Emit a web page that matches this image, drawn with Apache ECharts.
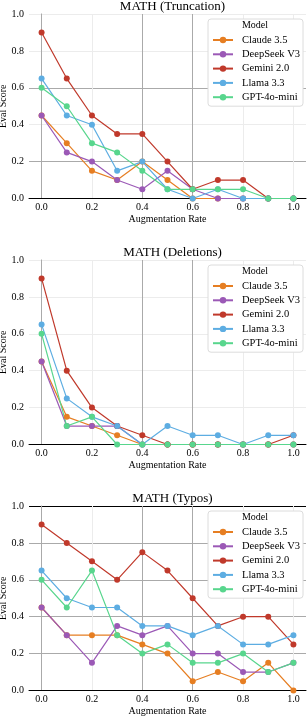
<!DOCTYPE html>
<html><head><meta charset="utf-8">
<script src="https://cdn.jsdelivr.net/npm/echarts@6/dist/echarts.min.js"></script>
<style>html,body{margin:0;padding:0;background:#fff}#c{width:308px;height:718px}</style>
</head><body><div id="c"></div>
<script>
// ---------- data ----------
const xValues = [0.0, 0.1, 0.2, 0.3, 0.4, 0.5, 0.6, 0.7, 0.8, 0.9, 1.0];
const xTicks = [0.0, 0.2, 0.4, 0.6, 0.8, 1.0];
const yTicks = [0.0, 0.2, 0.4, 0.6, 0.8, 1.0];
const models = ['Claude 3.5', 'DeepSeek V3', 'Gemini 2.0', 'Llama 3.3', 'GPT-4o-mini'];
const panelTitles = ['MATH (Truncation)', 'MATH (Deletions)', 'MATH (Typos)'];
const xAxisTitle = 'Augmentation Rate';
const yAxisTitle = 'Eval Score';
const legendTitle = 'Model';

// Truncation
const truncClaude   = [0.45, 0.30, 0.15, 0.10, 0.20, 0.10, 0.00, 0.00, 0.00, 0.00, 0.00];
const truncDeepSeek = [0.45, 0.25, 0.20, 0.10, 0.05, 0.15, 0.05, 0.00, 0.00, 0.00, 0.00];
const truncGemini   = [0.90, 0.65, 0.45, 0.35, 0.35, 0.20, 0.05, 0.10, 0.10, 0.00, 0.00];
const truncLlama    = [0.65, 0.45, 0.40, 0.15, 0.20, 0.05, 0.00, 0.05, 0.00, 0.00, 0.00];
const truncGPT      = [0.60, 0.50, 0.30, 0.25, 0.15, 0.05, 0.05, 0.05, 0.05, 0.00, 0.00];
// Deletions
const delClaude   = [0.45, 0.15, 0.10, 0.05, 0.00, 0.00, 0.00, 0.00, 0.00, 0.00, 0.00];
const delDeepSeek = [0.45, 0.10, 0.10, 0.10, 0.00, 0.00, 0.00, 0.00, 0.00, 0.00, 0.00];
const delGemini   = [0.90, 0.40, 0.20, 0.10, 0.05, 0.00, 0.00, 0.00, 0.00, 0.00, 0.05];
const delLlama    = [0.65, 0.25, 0.15, 0.10, 0.00, 0.10, 0.05, 0.05, 0.00, 0.05, 0.05];
const delGPT      = [0.60, 0.10, 0.15, 0.00, 0.00, 0.00, 0.00, 0.00, 0.00, 0.00, 0.00];
// Typos
const typoClaude   = [0.45, 0.30, 0.30, 0.30, 0.25, 0.20, 0.05, 0.10, 0.05, 0.15, 0.00];
const typoDeepSeek = [0.45, 0.30, 0.15, 0.35, 0.30, 0.35, 0.20, 0.20, 0.10, 0.10, 0.15];
const typoGemini   = [0.90, 0.80, 0.70, 0.60, 0.75, 0.65, 0.50, 0.35, 0.40, 0.40, 0.25];
const typoLlama    = [0.65, 0.50, 0.45, 0.45, 0.35, 0.35, 0.30, 0.35, 0.25, 0.25, 0.30];
const typoGPT      = [0.60, 0.45, 0.65, 0.30, 0.20, 0.25, 0.15, 0.15, 0.20, 0.10, 0.15];

const panels = [
  [truncClaude, truncDeepSeek, truncGemini, truncLlama, truncGPT],
  [delClaude, delDeepSeek, delGemini, delLlama, delGPT],
  [typoClaude, typoDeepSeek, typoGemini, typoLlama, typoGPT]
];

// ---------- style / layout ----------
const colors = ['#e67e22', '#9b59b6', '#c0392b', '#5dade2', '#58d68d'];
const FONT = 'Liberation Serif';
const G = '#aaaaaa', F = '#ececec', K = '#000000', N = 'rgba(0,0,0,0)';
const xGridColors = [
  [G, F, G, G, F, F],
  [G, F, G, G, F, F],
  [G, F, G, G, F, F]
];
const yGridColors = [
  [N, G, F, G, F, F],
  [N, F, F, F, F, F],
  [N, G, G, G, G, K]
];
const W = 308, plotLeft = 29, plotRight = 2;
const plotW = W - plotLeft - plotRight;
const pad = plotW * 0.05 / 1.1;
const tops = [14, 260, 506];
const plotH = 184.5;

const option = {
  animation: false,
  backgroundColor: '#fff',
  textStyle: { fontFamily: FONT },
  title: [], legend: [], grid: [], xAxis: [], yAxis: [], series: []
};

panels.forEach((vals, p) => {
  const top = tops[p];
  option.grid.push({ left: plotLeft, right: plotRight, top: top, height: plotH,
    containLabel: false, outerBoundsMode: 'none' });
  option.grid.push({ left: plotLeft + pad, right: plotRight + pad, top: top, height: plotH,
    containLabel: false, outerBoundsMode: 'none' });
  const ga = p * 2, gb = p * 2 + 1;

  option.xAxis.push({
    type: 'value', gridIndex: ga, min: -0.05, max: 1.05,
    axisLine: { show: true, lineStyle: { color: '#000', width: 1 } },
    axisTick: { show: false }, axisLabel: { show: false }, splitLine: { show: false },
    name: xAxisTitle, nameLocation: 'middle', nameGap: 16, nameMoveOverlap: false,
    nameTextStyle: { fontFamily: FONT, fontSize: 10, color: '#000' }
  });
  option.xAxis.push({
    type: 'value', gridIndex: gb, min: xTicks[0], max: xTicks[xTicks.length - 1], interval: 0.2,
    axisLine: { show: false }, axisTick: { show: false },
    axisLabel: { show: true, fontFamily: FONT, fontSize: 10, color: '#000', margin: 4,
      formatter: v => v.toFixed(1) },
    splitLine: { show: true, showMinLine: true, showMaxLine: true,
      lineStyle: { color: xGridColors[p], width: 1 } }
  });
  option.yAxis.push({
    type: 'value', gridIndex: ga, min: yTicks[0], max: yTicks[yTicks.length - 1], interval: 0.2,
    axisLine: { show: true, lineStyle: { color: '#e0e0e0', width: 1 } }, axisTick: { show: false },
    axisLabel: { show: true, fontFamily: FONT, fontSize: 10, color: '#000', margin: 5,
      formatter: v => v.toFixed(1) },
    splitLine: { show: true, lineStyle: { color: yGridColors[p], width: 1 } },
    name: yAxisTitle, nameLocation: 'middle', nameGap: 21, nameMoveOverlap: false,
    nameTextStyle: { fontFamily: FONT, fontSize: 10, color: '#000' }
  });
  // grid B y axis: its line is the vertical grid line at x = 0.0
  option.yAxis.push({
    type: 'value', gridIndex: gb, min: 0, max: 1, show: true,
    axisLine: { show: true, lineStyle: { color: xGridColors[p][0], width: 1 } },
    axisTick: { show: false }, axisLabel: { show: false }, splitLine: { show: false }
  });

  option.title.push({
    text: panelTitles[p], left: plotLeft + plotW / 2, textAlign: 'center', top: top - 19,
    textStyle: { fontFamily: FONT, fontSize: 13, fontWeight: 'normal', color: '#000' }
  });
  option.legend.push({
    data: models, orient: 'vertical', left: 208, top: top + 5,
    itemWidth: 20, itemHeight: 8, itemGap: 2.3,
    padding: [15, 3, 3, 4],
    backgroundColor: '#fff', borderColor: '#dcdcdc', borderWidth: 1, borderRadius: 3,
    textStyle: { fontFamily: FONT, fontSize: 10.5, lineHeight: 12, color: '#000', padding: [0, 0, 0, 4] }
  });
  option.title.push({
    text: legendTitle, left: 255, textAlign: 'center', top: top + 6, padding: 0,
    textStyle: { fontFamily: FONT, fontSize: 10, fontWeight: 'normal', color: '#000' }, z: 10
  });

  vals.forEach((arr, m) => {
    option.series.push({
      type: 'line', name: models[m], xAxisIndex: ga, yAxisIndex: ga,
      data: xValues.map((x, i) => [x, arr[i]]),
      symbol: 'circle', symbolSize: 6, clip: false,
      lineStyle: { color: colors[m], width: 1.2 },
      itemStyle: { color: colors[m] }
    });
  });
});

const chart = echarts.init(document.getElementById('c'), null, { renderer: 'canvas' });
chart.setOption(option);
</script>
</body></html>
